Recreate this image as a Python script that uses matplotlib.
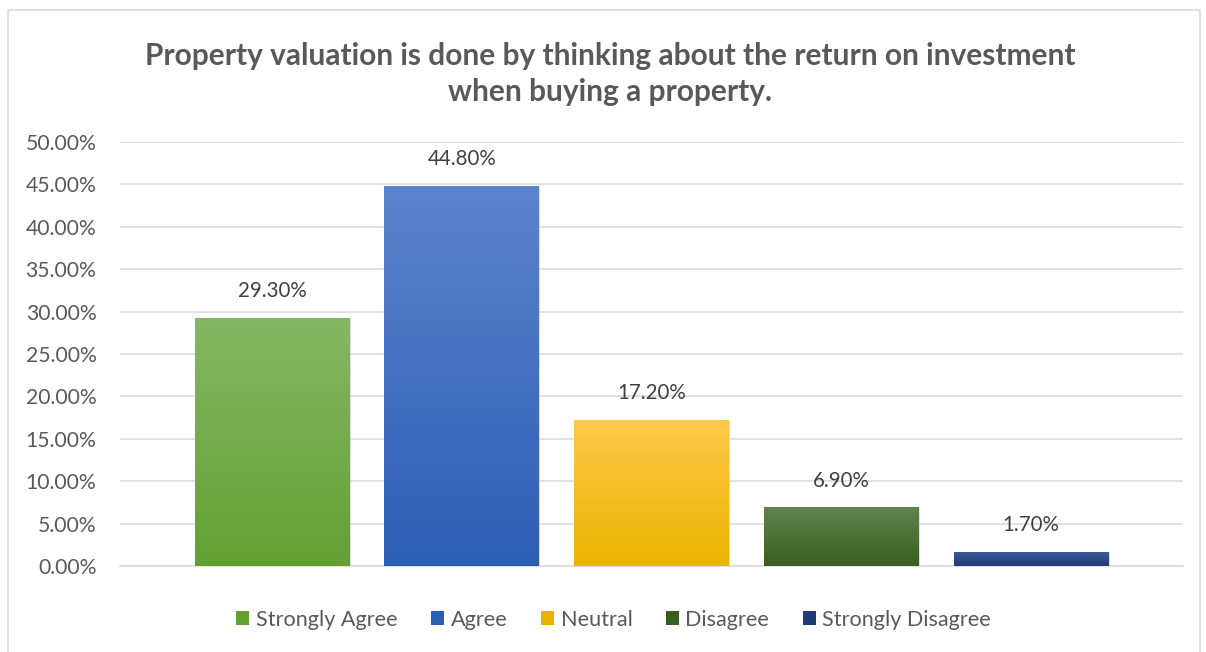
import numpy as np
import matplotlib.pyplot as plt
from matplotlib.patches import Rectangle
from matplotlib.colors import LinearSegmentedColormap
import matplotlib.patheffects as pe

categories = ['Strongly Agree', 'Agree', 'Neutral', 'Disagree', 'Strongly Disagree']
values = [29.3, 44.8, 17.2, 6.9, 1.7]
yticks = [0, 5, 10, 15, 20, 25, 30, 35, 40, 45, 50]
# (top, bottom) gradient colours for each bar
bar_colors = [('#85b864', '#62a034'),
              ('#5d84cd', '#2d5db4'),
              ('#ffc84a', '#e9b400'),
              ('#62834f', '#385f20'),
              ('#3e5c98', '#1e3b78')]
title = 'Property valuation is done by thinking about the return on investment\nwhen buying a property.'

plt.rcParams['font.family'] = ['Lato', 'DejaVu Sans']

fig = plt.figure(figsize=(12.06, 6.52), dpi=100)
W, H = 1206, 652

# light chart border
fig.patches.append(Rectangle((8 / W, -0.02), 1192 / W, 1.02 - 10 / H,
                             transform=fig.transFigure, fill=False,
                             edgecolor='#d9d9d9', linewidth=1.2))

ax = fig.add_axes([120 / W, 86 / H, 1063 / W, 424 / H])
x = np.arange(len(categories))
width = 0.815
bars = ax.bar(x, values, width=width, color='none', zorder=3,
              path_effects=[pe.SimplePatchShadow(offset=(1, -1), shadow_rgbFace='#bfbfbf', alpha=0.5)])

for bar, (top, bottom), v in zip(bars, bar_colors, values):
    cmap = LinearSegmentedColormap.from_list('g', [bottom, top])
    grad = np.linspace(0, 1, 256).reshape(-1, 1)
    x0 = bar.get_x()
    img = ax.imshow(grad, cmap=cmap, origin='lower', aspect='auto',
                    extent=(x0, x0 + bar.get_width(), 0, v), zorder=4)
    img.set_clip_path(bar)
    ax.text(bar.get_x() + bar.get_width() / 2, v + 2.0, f'{v:.2f}%',
            ha='center', va='bottom', fontsize=14.8, color='#404040', zorder=5)

pad = 57 / 189.5
ax.set_xlim(-0.5 - pad, len(categories) - 0.5 + pad)
ax.set_ylim(0, 50)
ax.set_yticks(yticks)
ax.set_yticklabels([f'{t:.2f}%' for t in yticks], fontsize=15.2, color='#595959')
ax.set_xticks([])
ax.tick_params(axis='y', length=0, pad=17)
ax.grid(axis='y', color='#d9d9d9', linewidth=1.1, zorder=0)
for side in ['top', 'right', 'left']:
    ax.spines[side].set_visible(False)
ax.spines['bottom'].set_color('#d9d9d9')
ax.spines['bottom'].set_linewidth(1.1)
ax.set_axisbelow(True)

fig.text(0.506, 1 - 74 / H, title, ha='center', va='center',
         fontsize=21.5, fontweight='bold', color='#595959', linespacing=1.35)

handles = [Rectangle((0, 0), 1, 1, facecolor=c[1]) for c in bar_colors]
fig.legend(handles, categories, loc='center', bbox_to_anchor=(0.509, 1 - 620 / H),
           ncol=5, frameon=False, fontsize=15.6, labelcolor='#595959',
           handlelength=0.6, handleheight=0.6, handletextpad=0.3, columnspacing=1.55)

fig.savefig('out.png', dpi=100)
